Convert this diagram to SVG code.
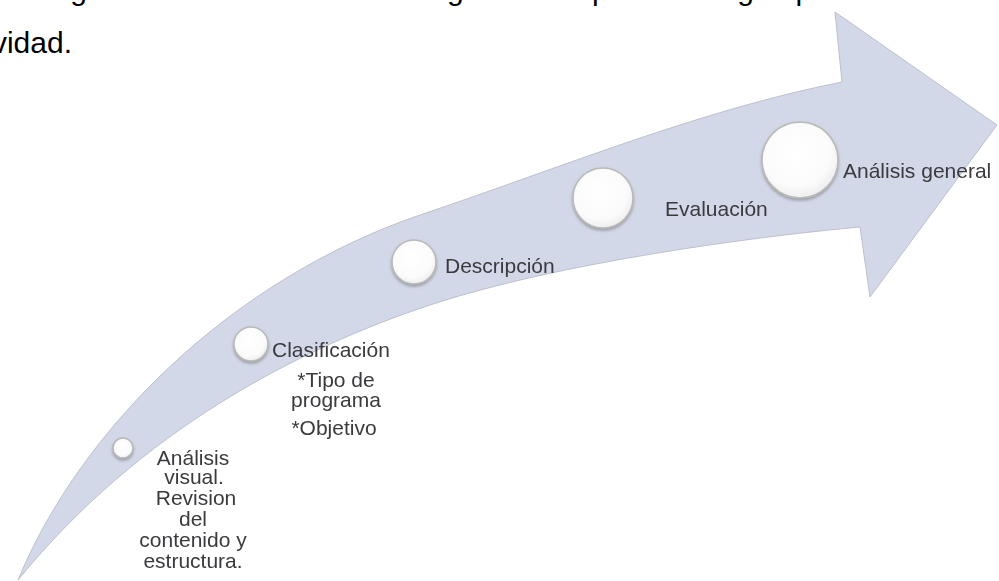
<svg xmlns="http://www.w3.org/2000/svg" width="999" height="581" viewBox="0 0 999 581">
  <defs>
    <radialGradient id="bead" cx="45%" cy="40%" r="60%">
      <stop offset="0" stop-color="#ffffff"/>
      <stop offset="0.75" stop-color="#fbfbfb"/>
      <stop offset="1" stop-color="#eeeeee"/>
    </radialGradient>
    <filter id="soft" x="-30%" y="-30%" width="160%" height="160%">
      <feGaussianBlur in="SourceAlpha" stdDeviation="1.6"/>
      <feOffset dx="0" dy="1.5" result="b"/>
      <feFlood flood-color="#6d6d6d" flood-opacity="0.55"/>
      <feComposite in2="b" operator="in"/>
      <feMerge><feMergeNode/><feMergeNode in="SourceGraphic"/></feMerge>
    </filter>
    <filter id="blur" x="-5%" y="-20%" width="110%" height="140%">
      <feGaussianBlur stdDeviation="0.35"/>
    </filter>
  </defs>
  <style>
    .body { font-family: "Liberation Sans", Arial, sans-serif; font-size: 30px; fill: #000000; }
    .band { fill: #d3d8e8; stroke: #bcc0cc; stroke-width: 1; stroke-linejoin: round; }
    .bead { fill: url(#bead); stroke: #b9b9b9; stroke-width: 1.5; filter: url(#soft); }
    .lbl { font-family: "Liberation Sans", Arial, sans-serif; font-size: 21px; fill: #3a3a3e; filter: url(#blur); }
    .mid { text-anchor: middle; }
  </style>

  <rect width="999" height="581" fill="#ffffff"/>

  <!-- running text of the page, cut by the edges -->
  <text class="body" x="-150" y="0">En la siguiente figura se muestra de manera gráfica los pasos a seguir para la</text>
  <text class="body" x="72" y="53" text-anchor="end" font-size="31">actividad.</text>

  <!-- curved rising arrow -->
  <g id="connectors">
    <path class="band" d="M18,580 C80,430 230,280 420,215 C560,168 700,110 842,82 L835,12 L997,125 L870,297 L860,227 C760,236 560,262 430,305 C300,348 140,430 18,580 Z"/>
  </g>

  <g id="step-analisis-visual">
    <circle class="bead" cx="123" cy="448" r="10"/>
    <text class="lbl mid" x="193" y="465">Análisis</text>
    <text class="lbl mid" x="194" y="484">visual.</text>
    <text class="lbl mid" x="196" y="505">Revision</text>
    <text class="lbl mid" x="193" y="526">del</text>
    <text class="lbl mid" x="193" y="547">contenido y</text>
    <text class="lbl mid" x="193" y="568">estructura.</text>
  </g>

  <g id="step-clasificacion">
    <circle class="bead" cx="251" cy="344" r="17"/>
    <text class="lbl" x="272" y="357">Clasificación</text>
    <text class="lbl mid" x="336" y="387">*Tipo de</text>
    <text class="lbl mid" x="336" y="407">programa</text>
    <text class="lbl mid" x="334" y="435">*Objetivo</text>
  </g>

  <g id="step-descripcion">
    <circle class="bead" cx="414" cy="262" r="22"/>
    <text class="lbl" x="445" y="273">Descripción</text>
  </g>

  <g id="step-evaluacion">
    <circle class="bead" cx="603" cy="198" r="30"/>
    <text class="lbl" x="665" y="216">Evaluación</text>
  </g>

  <g id="step-analisis-general">
    <circle class="bead" cx="800" cy="160" r="38"/>
    <text class="lbl" x="843" y="178">Análisis general</text>
  </g>
</svg>
